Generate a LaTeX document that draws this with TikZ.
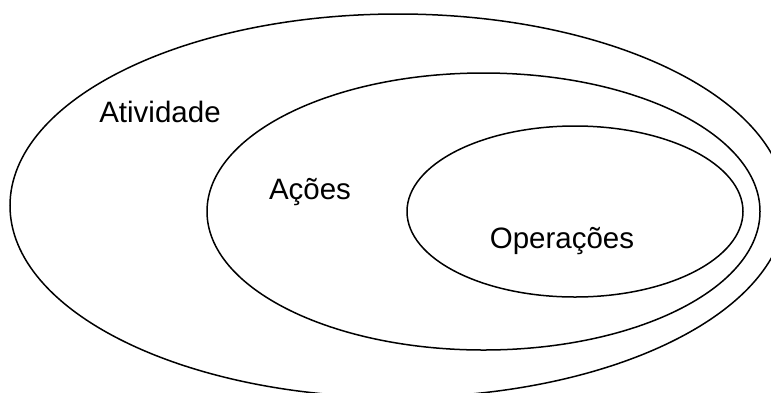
\documentclass[tikz,border=0pt]{standalone}
\usepackage{fontspec}
\setmainfont{Liberation Sans}
\begin{document}
\begin{tikzpicture}[x=1pt,y=-1pt,
  ring/.style={draw=black,line width=1.5pt},
  lbl/.style={anchor=base,inner sep=0pt,font=\fontsize{29.5}{34}\selectfont}]
\useasboundingbox (0,0) rectangle (771,392);
\begin{scope}
\clip (0,0) rectangle (771,392);
% nested levels: activity > actions > operations
\draw[ring] (398,205.7) ellipse [x radius=388, y radius=191.7];
\draw[ring] (483.5,211.5) ellipse [x radius=276.5, y radius=138.5];
\draw[ring] (575,211.5) ellipse [x radius=168, y radius=85.5];
\end{scope}
\node[lbl] (atividade) at (160,122) {Atividade};
\node[lbl] (acoes) at (310,199) {Ações};
\node[lbl] (operacoes) at (562,248) {Operações};
\end{tikzpicture}
\end{document}
